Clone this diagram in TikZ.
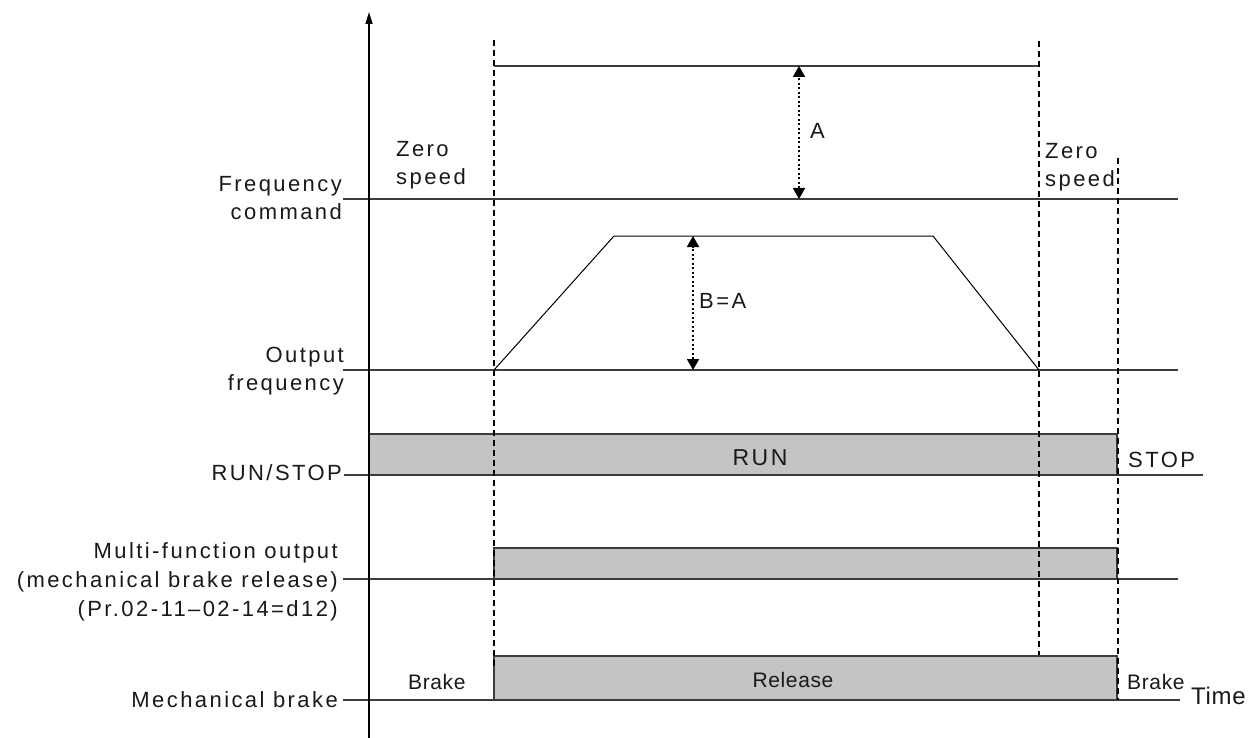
\documentclass[tikz,border=0pt]{standalone}
\usepackage{fontspec}
\setmainfont{Liberation Sans}
\newfontfamily\lblfont{Liberation Sans}[LetterSpace=11]
\newfontfamily\smlfont{Liberation Sans}[LetterSpace=3]
\usetikzlibrary{arrows.meta}
\definecolor{boxgray}{RGB}{196,196,194}
\definecolor{linegray}{RGB}{60,60,60}
\tikzset{
  lbl/.style={inner sep=0pt, font=\fontsize{22}{28}\selectfont\lblfont, text=black!90},
  sml/.style={inner sep=0pt, font=\fontsize{21}{25}\selectfont\smlfont, text=black!90},
  sigline/.style={draw=linegray, line width=1.3pt},
  sigbox/.style={draw=linegray, line width=1.3pt, fill=boxgray},
  guide/.style={draw=black, line width=1.8pt, dash pattern=on 6pt off 4pt},
  axisline/.style={draw=black, line width=1.6pt, -{Triangle[length=12pt,width=7pt]}},
  dimarrow/.style={draw=black, line width=1.8pt, dash pattern=on 2pt off 2.5pt,
     {Triangle[length=11pt,width=12pt]}-{Triangle[length=11pt,width=12pt]}}
}
\begin{document}
\begin{tikzpicture}[x=1pt,y=-1pt]
\useasboundingbox (0,0) rectangle (1250,738);

% coordinates
\coordinate (ax0) at (369,738);
\coordinate (ax1) at (369,12);

% frequency command
\coordinate (fc0) at (343,199);
\coordinate (fc1) at (1178,199);
\coordinate (ft0) at (494,66);
\coordinate (ft1) at (1039,66);
\coordinate (aTop) at (799,66);
\coordinate (aBot) at (799,199);

% output frequency
\coordinate (of0) at (343,370);
\coordinate (of1) at (1178,370);
\coordinate (r0) at (494,370);
\coordinate (r1) at (614,236);
\coordinate (r2) at (933,236);
\coordinate (r3) at (1039,370);
\coordinate (bTop) at (693,236);
\coordinate (bBot) at (693,370);

% run/stop
\coordinate (rs0) at (344,475);
\coordinate (rs1) at (369,475);
\coordinate (rs2) at (1117,475);
\coordinate (rs3) at (1203,475);

% multi-function
\coordinate (mf0) at (343,579);
\coordinate (mf1) at (1178,579);

% mechanical brake
\coordinate (mb0) at (343,700);
\coordinate (mb1) at (1180,700);

% signal lines
\draw[sigline] (ft0) -- (ft1);
\draw[sigline, line width=1.6pt] (fc0) -- (fc1);
\draw[sigline] (of0) -- (of1);
\draw[sigline, line width=1pt, draw=black] (r0) -- (r1) -- (r2) -- (r3);
\draw[sigline] (rs0) -- (rs1);
\draw[sigline] (rs2) -- (rs3);
\draw[sigline] (mf0) -- (mf1);
\draw[sigline] (mb0) -- (mb1);

% boxes
\draw[sigbox] (369,434) rectangle (1117,475);
\draw[sigbox] (494,548) rectangle (1117,579);
\draw[sigbox] (494,656) rectangle (1117,700);

% guides
\coordinate (g1a) at (494,40);
\coordinate (g1b) at (494,668);
\coordinate (g2a) at (1039,41);
\coordinate (g2b) at (1039,655);
\coordinate (g3a) at (1118,158);
\coordinate (g3b) at (1118,700);
\draw[guide] (g1a) -- (g1b);
\draw[guide] (g2a) -- (g2b);
\draw[guide] (g3a) -- (g3b);

% axis
\draw[axisline] (ax0) -- (ax1);

% dimension arrows
\draw[dimarrow] (aBot) -- (aTop);
\draw[dimarrow] (bBot) -- (bTop);
\node[lbl, anchor=base west] (labA) at (810,139) {A};
\node[lbl, anchor=base west] (labB) at (699,308) {B=A};

% left labels
\node[lbl, anchor=east, align=right] (lfc) at (342,198) {Frequency\\command};
\node[lbl, anchor=east, align=right] (lof) at (344,371) {Output\\frequency};
\node[lbl, anchor=base east] (lrs) at (342,480) {RUN/STOP};
\node[lbl, anchor=east, align=right, font=\fontsize{22}{29}\selectfont\lblfont] (lmf) at (338,582) {Multi-function output\\(mechanical brake release)\\(Pr.02-11–02-14=d12)};
\node[lbl, anchor=base east] (lmb) at (338,707) {Mechanical brake};

% zero speed labels
\node[lbl, anchor=north west, align=left] (zs1) at (396,141) {Zero\\speed};
\node[lbl, anchor=north west, align=left] (zs2) at (1045,143) {Zero\\speed};

% box labels
\node[lbl, anchor=base, font=\fontsize{23}{27}\selectfont\lblfont] (lrun) at (760,465) {RUN};
\node[lbl, anchor=base west] (lstop) at (1128,467) {STOP};
\node[sml, anchor=base] (lrel) at (793,687) {Release};
\node[sml, anchor=base west] (lbr1) at (408,689) {Brake};
\node[sml, anchor=base west] (lbr2) at (1127,689) {Brake};
\node[lbl, anchor=base west, font=\fontsize{24}{28}\selectfont\smlfont] (ltime) at (1191,704) {Time};
\end{tikzpicture}
\end{document}
